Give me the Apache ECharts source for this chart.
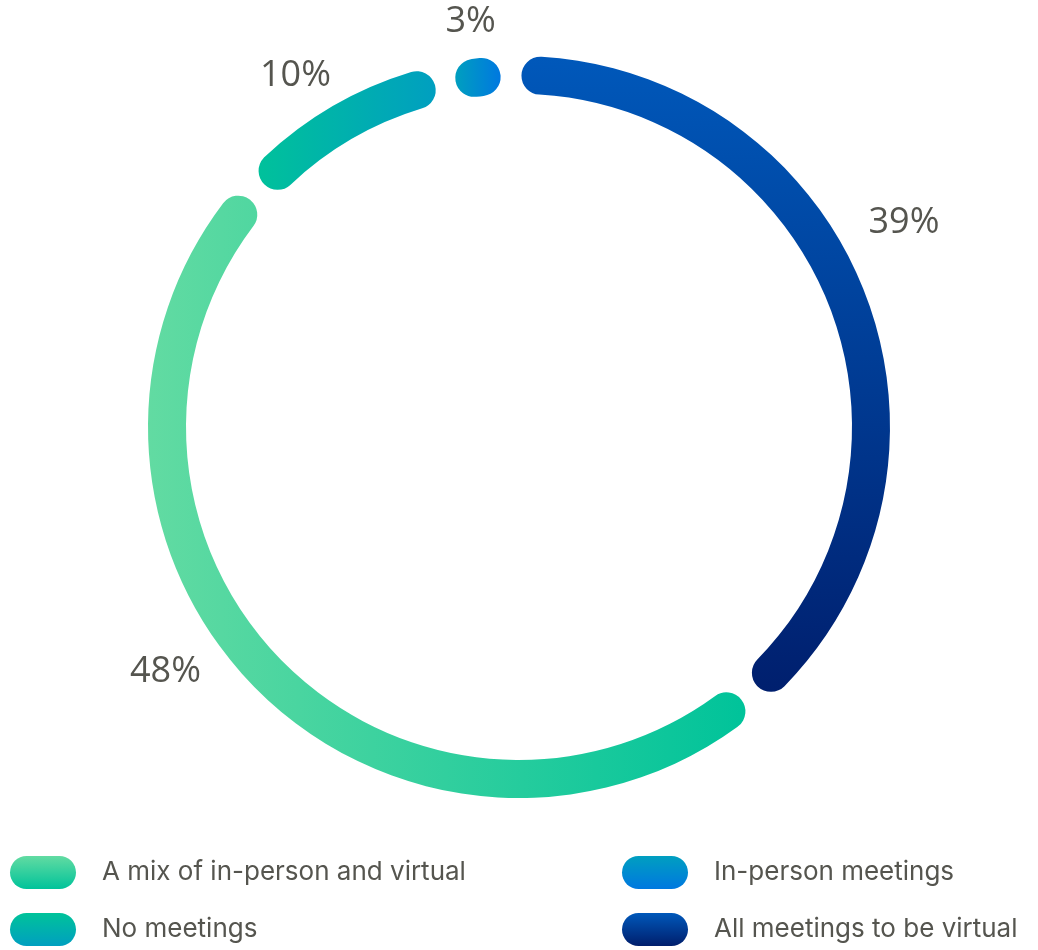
<!DOCTYPE html>
<html>
<head>
<meta charset="utf-8">
<title>Meeting preferences</title>
<script src="https://cdn.jsdelivr.net/npm/echarts@6/dist/echarts.min.js"></script>
<style>
  html, body { margin: 0; padding: 0; background: #ffffff; }
  #chart { width: 1038px; height: 950px; }
</style>
</head>
<body>
<div id="chart"></div>
<script>
// Survey answers, in ring order (clockwise from the top)
const categories = [
  'All meetings to be virtual',
  'A mix of in-person and virtual',
  'No meetings',
  'In-person meetings'
];
const shares = [39, 48, 10, 3];

// Legend columns
const legendLeft = ['A mix of in-person and virtual', 'No meetings'];
const legendRight = ['In-person meetings', 'All meetings to be virtual'];

const TEXT = '#55554f';
const FONT = '"Open Sans", Lato, sans-serif';
const LEGEND_FONT = 'Inter, "Open Sans", sans-serif';

function grad(horizontal, from, to) {
  return {
    type: 'linear', x: 0, y: 0,
    x2: horizontal ? 1 : 0, y2: horizontal ? 0 : 1,
    colorStops: [{ offset: 0, color: from }, { offset: 1, color: to }]
  };
}

// Ring colours (gradients across each arc) and legend swatches (top to bottom)
const ringFill = {
  'All meetings to be virtual': grad(false, '#0058ba', '#001f6e'),
  'A mix of in-person and virtual': grad(true, '#62dba2', '#00c39a'),
  'No meetings': grad(true, '#00c19b', '#009fc0'),
  'In-person meetings': grad(true, '#009fbf', '#0078e0')
};
const swatchFill = {
  'All meetings to be virtual': grad(false, '#0058ba', '#001e6c'),
  'A mix of in-person and virtual': grad(false, '#62dba2', '#00c39a'),
  'No meetings': grad(false, '#00c39a', '#009fc0'),
  'In-person meetings': grad(false, '#009fc0', '#0078e0')
};

const CENTER = [519, 427];
// Where each percentage sits: angle clockwise from 12 o'clock, distance from centre
const labelSpot = [
  { deg: 62, r: 436 },
  { deg: 235.3, r: 430 },
  { deg: 327.5, r: 416 },
  { deg: 353.2, r: 408 }
];

const pill = 'path://M16.5,0 H49.5 A16.5,16.5 0 0 1 49.5,33 H16.5 A16.5,16.5 0 0 1 16.5,0 Z';

function legendBlock(left, names) {
  return {
    orient: 'vertical',
    left: left,
    top: 856,
    padding: 0,
    itemWidth: 66,
    itemHeight: 33,
    itemGap: 24,
    icon: pill,
    selectedMode: false,
    textStyle: { fontSize: 26, color: TEXT, fontFamily: LEGEND_FONT, padding: [5, 0, 0, 21] },
    data: names.map(n => ({ name: n, itemStyle: { color: swatchFill[n] } }))
  };
}

const chart = echarts.init(document.getElementById('chart'), null, { renderer: 'canvas' });

chart.setOption({
  animation: false,
  backgroundColor: '#ffffff',
  legend: [legendBlock(10, legendLeft), legendBlock(622, legendRight)],
  series: [{
    type: 'pie',
    center: CENTER,
    radius: [333, 371],
    startAngle: 91.3,
    clockwise: true,
    padAngle: 3.4,
    silent: true,
    itemStyle: { borderRadius: 19 },
    label: {
      show: true,
      position: 'outside',
      formatter: '{c}%',
      fontSize: 36,
      color: TEXT,
      fontFamily: FONT
    },
    labelLine: { show: false },
    labelLayout: function (p) {
      const s = labelSpot[p.dataIndex];
      const a = s.deg * Math.PI / 180;
      return {
        x: CENTER[0] + s.r * Math.sin(a),
        y: CENTER[1] - s.r * Math.cos(a),
        align: 'center',
        verticalAlign: 'middle'
      };
    },
    data: categories.map((name, i) => ({
      name: name,
      value: shares[i],
      itemStyle: { color: ringFill[name] }
    }))
  }]
});
</script>
</body>
</html>
